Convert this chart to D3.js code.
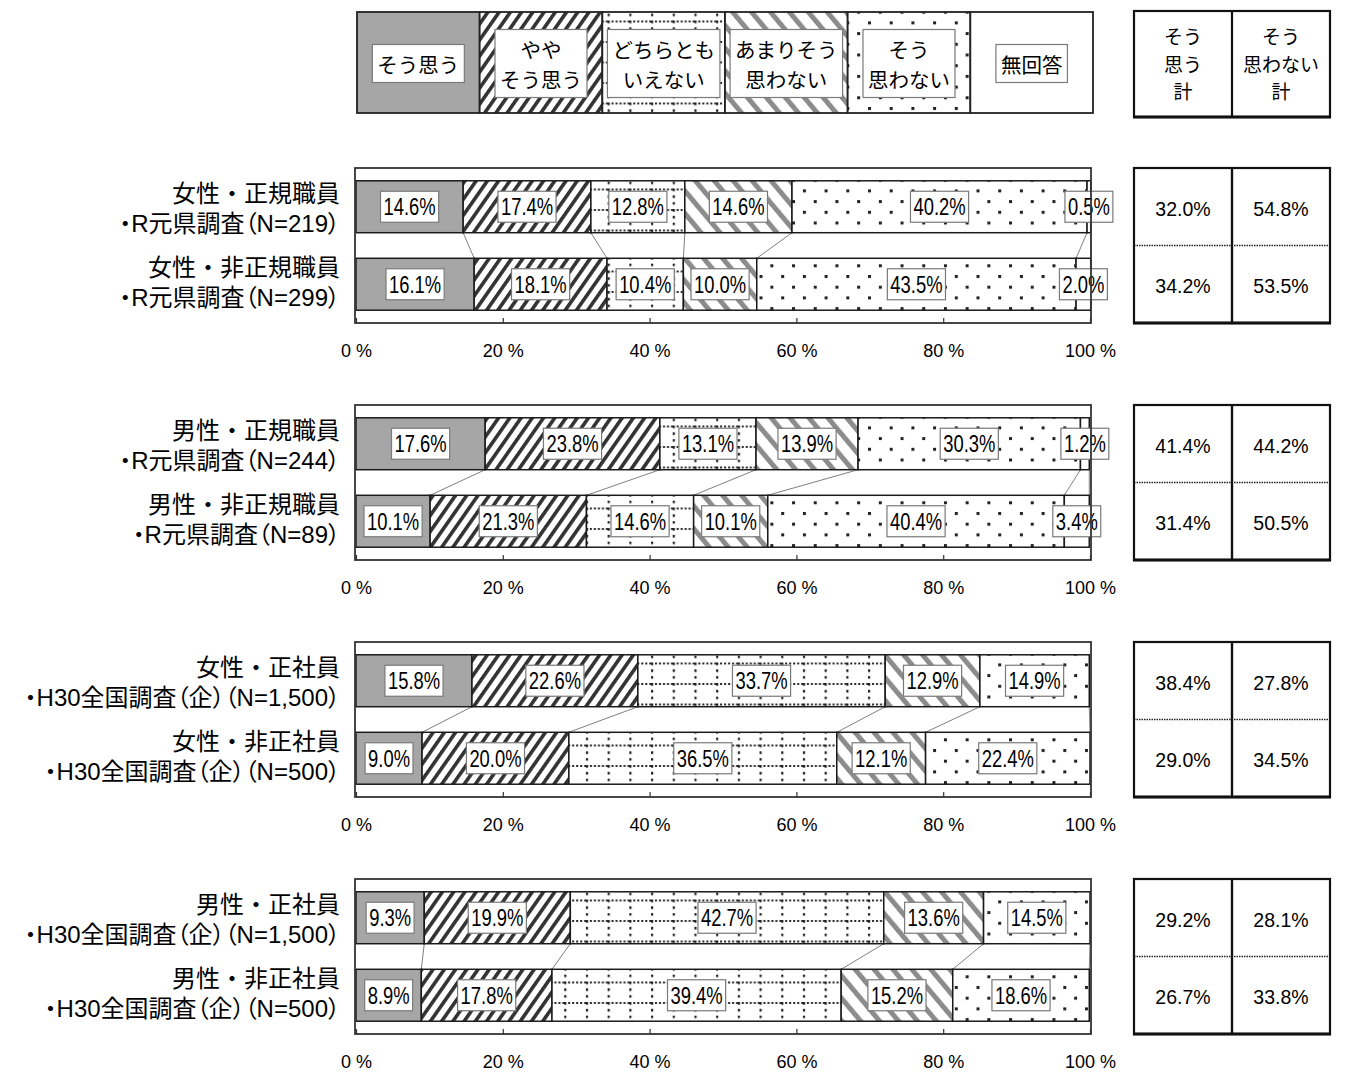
<!DOCTYPE html>
<html>
<head>
<meta charset="utf-8">
<script src="https://cdn.jsdelivr.net/npm/d3@7"></script>
<style>
  body { margin: 0; background: #fff; }
  svg { display: block; }
</style>
</head>
<body>
<svg id="chart" width="1345" height="1072"></svg>
<script>
// Answer categories (stack order, left to right)
const categories = ["そう思う", "ややそう思う", "どちらともいえない", "あまりそう思わない", "そう思わない", "無回答"];
const legendLines = [["そう思う"], ["やや", "そう思う"], ["どちらとも", "いえない"], ["あまりそう", "思わない"], ["そう", "思わない"], ["無回答"]];

// Respondent groups, two per panel
const rowLabels = [
  ["女性・正規職員", "・R元県調査（N=219）"],
  ["女性・非正規職員", "・R元県調査（N=299）"],
  ["男性・正規職員", "・R元県調査（N=244）"],
  ["男性・非正規職員", "・R元県調査（N=89）"],
  ["女性・正社員", "・H30全国調査（企）（N=1,500）"],
  ["女性・非正社員", "・H30全国調査（企）（N=500）"],
  ["男性・正社員", "・H30全国調査（企）（N=1,500）"],
  ["男性・非正社員", "・H30全国調査（企）（N=500）"]
];

// Shares (%) per category; null = not asked
const rowValues = [
  [14.6, 17.4, 12.8, 14.6, 40.2, 0.5],
  [16.1, 18.1, 10.4, 10.0, 43.5, 2.0],
  [17.6, 23.8, 13.1, 13.9, 30.3, 1.2],
  [10.1, 21.3, 14.6, 10.1, 40.4, 3.4],
  [15.8, 22.6, 33.7, 12.9, 14.9, null],
  [9.0, 20.0, 36.5, 12.1, 22.4, null],
  [9.3, 19.9, 42.7, 13.6, 14.5, null],
  [8.9, 17.8, 39.4, 15.2, 18.6, null]
];

// Side table: そう思う計 / そう思わない計
const totalAgree = [32.0, 34.2, 41.4, 31.4, 38.4, 29.0, 29.2, 26.7];
const totalDisagree = [54.8, 53.5, 44.2, 50.5, 27.8, 34.5, 28.1, 33.8];
const tableHeader = [["そう", "思う", "計"], ["そう", "思わない", "計"]];

const tickValues = [0, 20, 40, 60, 80, 100];

const JP = "'Noto Sans CJK JP', sans-serif";
const MIXED = "'Liberation Sans', 'Noto Sans CJK JP', sans-serif";
const NUM = "'Liberation Sans', Arial, sans-serif";

const svg = d3.select("#chart");
const defs = svg.append("defs");

// ---- fill patterns ----
function stripePattern(id, angle, period, width, color) {
  const p = defs.append("pattern").attr("id", id)
    .attr("patternUnits", "userSpaceOnUse")
    .attr("width", period).attr("height", period)
    .attr("patternTransform", `rotate(${angle})`);
  p.append("rect").attr("width", period).attr("height", period).attr("fill", "#fff");
  p.append("rect").attr("x", 0).attr("y", 0).attr("width", width).attr("height", period).attr("fill", color);
}
stripePattern("pat-yaya", 35, 9.2, 3.6, "#333");
stripePattern("pat-amari", -40, 14.5, 5, "#8c8c8c");

const grid = defs.append("pattern").attr("id", "pat-dochira")
  .attr("patternUnits", "userSpaceOnUse").attr("width", 21.7).attr("height", 20.5);
grid.append("rect").attr("width", 21.7).attr("height", 20.5).attr("fill", "#fff");
grid.append("line").attr("x1", 1).attr("y1", 0).attr("x2", 1).attr("y2", 20.5)
  .attr("stroke", "#222").attr("stroke-width", 2.4).attr("stroke-dasharray", "2.6 4.2");
grid.append("line").attr("x1", 0).attr("y1", 1).attr("x2", 21.7).attr("y2", 1)
  .attr("stroke", "#222").attr("stroke-width", 1.8).attr("stroke-dasharray", "2 2");

const dots = defs.append("pattern").attr("id", "pat-dots")
  .attr("patternUnits", "userSpaceOnUse").attr("width", 21.7).attr("height", 21.4);
dots.append("rect").attr("width", 21.7).attr("height", 21.4).attr("fill", "#fff");
dots.append("rect").attr("x", 0).attr("y", 0).attr("width", 3).attr("height", 3).attr("fill", "#222");
dots.append("rect").attr("x", 10.85).attr("y", 10.7).attr("width", 3).attr("height", 3).attr("fill", "#222");

const fills = ["#a6a6a6", "url(#pat-yaya)", "url(#pat-dochira)", "url(#pat-amari)", "url(#pat-dots)", "#fff"];
const color = d3.scaleOrdinal().domain(categories).range(fills);

// ---- scales ----
const x = d3.scaleLinear().domain([0, 100]).range([356, 1090]);
const panels = d3.range(4);
const panelY = d3.scaleBand().domain(panels).range([168, 1034]).paddingInner(0.346);
const PH = panelY.bandwidth();
const barY = d3.scaleBand().domain([0, 1]).range([0, PH]).paddingInner(0.33).paddingOuter(0.165);
const BH = barY.bandwidth();

// text in a white box with a thin grey outline
function boxedText(parent, cx, cy, lines, o) {
  const sx = o.sx || 1;
  const g = parent.append("g").attr("transform", `translate(${cx},${cy})`);
  const rect = g.append("rect");
  const t = g.append("text").attr("text-anchor", "middle").attr("transform", `scale(${sx},1)`)
    .style("font-family", o.font).style("font-size", o.size + "px").attr("fill", "#000");
  lines.forEach((s, i) => {
    t.append("tspan").attr("x", 0)
      .attr("y", (i - (lines.length - 1) / 2) * o.lh)
      .attr("dominant-baseline", "central").text(s);
  });
  const bb = t.node().getBBox();
  const w = bb.width * sx + 2 * o.px;
  const h = lines.length * o.lh + 2 * o.py;
  rect.attr("x", -w / 2).attr("y", -h / 2)
    .attr("width", w).attr("height", h)
    .attr("fill", "#fff").attr("stroke", "#7a7a7a").attr("stroke-width", 1.2);
}

// ---- legend strip ----
const lx = d3.scaleBand().domain(categories).range([x(0) + 1, x(100) + 3]);
const legendTop = 12, legendH = 101;
const legend = svg.append("g");
legend.selectAll("rect.seg").data(categories).join("rect").attr("class", "seg")
  .attr("x", d => lx(d)).attr("y", legendTop)
  .attr("width", lx.bandwidth()).attr("height", legendH)
  .attr("fill", d => color(d)).attr("stroke", "#222").attr("stroke-width", 1.8);
categories.forEach((c, i) => {
  boxedText(legend, lx(c) + lx.bandwidth() / 2, legendTop + legendH / 2 + 1, legendLines[i],
    { font: JP, size: 20.5, lh: 30, px: 5, py: 4 });
});

// ---- side table ----
const tx0 = 1134, txm = 1232, tx1 = 1330;
const table = svg.append("g");
function tableFrame(y0, y1) {
  table.append("rect").attr("x", tx0).attr("y", y0).attr("width", tx1 - tx0).attr("height", y1 - y0)
    .attr("fill", "#fff").attr("stroke", "#111").attr("stroke-width", 2.2);
  table.append("line").attr("x1", txm).attr("x2", txm).attr("y1", y0).attr("y2", y1)
    .attr("stroke", "#111").attr("stroke-width", 2.2);
  table.append("line").attr("x1", tx0 - 1).attr("x2", tx1 + 1).attr("y1", y1).attr("y2", y1)
    .attr("stroke", "#111").attr("stroke-width", 3);
}
tableFrame(11, 117);
tableHeader.forEach((lines, j) => {
  const cx = j === 0 ? (tx0 + txm) / 2 : (txm + tx1) / 2;
  lines.forEach((s, i) => table.append("text").attr("text-anchor", "middle")
    .style("font-family", JP).style("font-size", "19px")
    .attr("x", cx).attr("y", 63 + (i - 1) * 27.6)
    .attr("dominant-baseline", "central").text(s));
});

// ---- panels ----
panels.forEach(p => {
  const top = panelY(p);
  const g = svg.append("g").attr("transform", `translate(0,${top})`);
  const rows = [p * 2, p * 2 + 1];

  g.append("rect").attr("x", x(0) - 1).attr("y", 0).attr("width", x(100) - x(0) + 2).attr("height", PH)
    .attr("fill", "#fff");

  const stacks = rows.map(r => {
    let acc = 0;
    return rowValues[r].map((v, i) => {
      const s = { cat: categories[i], v, x0: acc, x1: acc + (v || 0) };
      acc += v || 0;
      return s;
    });
  });

  // series lines joining the segment boundaries of the two bars
  categories.forEach((c, i) => {
    const a = stacks[0][i], b = stacks[1][i];
    if (a.v == null && b.v == null) return;
    g.append("line")
      .attr("x1", x(a.x1)).attr("y1", barY(0) + BH)
      .attr("x2", x(b.x1)).attr("y2", barY(1))
      .attr("stroke", "#808080").attr("stroke-width", 1);
  });

  stacks.forEach((segs, k) => {
    const y0 = barY(k);
    g.selectAll(null).data(segs.filter(s => s.v != null && s.v > 0)).join("rect")
      .attr("x", s => x(s.x0)).attr("y", y0)
      .attr("width", s => x(s.x1) - x(s.x0)).attr("height", BH)
      .attr("fill", s => color(s.cat)).attr("stroke", "#1a1a1a").attr("stroke-width", 1.5);
  });
  stacks.forEach((segs, k) => {
    const cy = barY(k) + BH / 2;
    segs.filter(s => s.v != null && s.v > 0).forEach(s => {
      boxedText(g, x((s.x0 + s.x1) / 2), cy, [s.v.toFixed(1) + "%"],
        { font: NUM, size: 23, lh: 25, px: 3, py: 3, sx: 0.8 });
    });
    // group label: two right-aligned lines, the second set proportionally
    const offs = k === 0 ? [-13, 17] : [-17, 13];
    rowLabels[rows[k]].forEach((s, i) => {
      svg.append("text").attr("text-anchor", "end").attr("fill", "#000")
        .attr("x", 340).attr("y", top + cy + offs[i])
        .attr("dominant-baseline", "central")
        .style("font-family", MIXED).style("font-size", "24px")
        .style("font-feature-settings", i === 1 ? "'palt' 1" : "normal")
        .text(s);
    });
  });

  // plot frame
  g.append("rect").attr("x", x(0) - 1).attr("y", 0).attr("width", x(100) - x(0) + 2).attr("height", PH)
    .attr("fill", "none").attr("stroke", "#333").attr("stroke-width", 1.8);

  // percentage axis with inward ticks
  const axis = d3.axisBottom(x).tickValues(tickValues).tickSize(-5).tickPadding(21)
    .tickFormat(d => d + " %");
  const ga = g.append("g").attr("transform", `translate(0,${PH})`).call(axis);
  ga.select(".domain").remove();
  ga.selectAll(".tick line").attr("stroke", "#333").attr("stroke-width", 1.2);
  ga.selectAll(".tick text").style("font-family", NUM).style("font-size", "18px").attr("fill", "#000");

  // side table rows
  tableFrame(top, top + PH);
  table.append("line").attr("x1", tx0).attr("x2", tx1).attr("y1", top + PH / 2).attr("y2", top + PH / 2)
    .attr("stroke", "#222").attr("stroke-width", 1.6).attr("stroke-dasharray", "1.5 1");
  table.append("line").attr("x1", txm).attr("x2", txm).attr("y1", top).attr("y2", top + PH)
    .attr("stroke", "#111").attr("stroke-width", 2.2);
  rows.forEach((r, k) => {
    const cy = top + PH / 4 + k * PH / 2 + 2;
    [totalAgree[r], totalDisagree[r]].forEach((v, j) => {
      table.append("text").attr("text-anchor", "middle")
        .attr("x", j === 0 ? (tx0 + txm) / 2 : (txm + tx1) / 2).attr("y", cy)
        .attr("dominant-baseline", "central")
        .style("font-family", NUM).style("font-size", "19.5px").text(v.toFixed(1) + "%");
    });
  });
});
</script>
</body>
</html>
